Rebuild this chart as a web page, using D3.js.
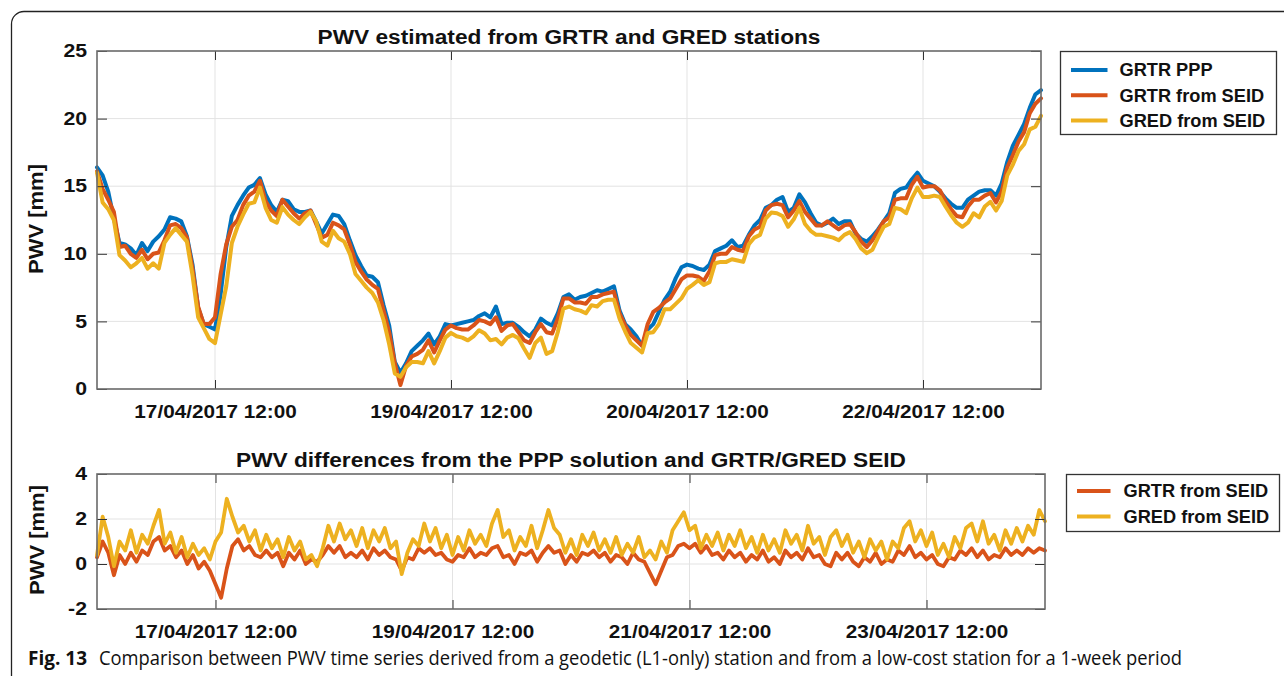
<!DOCTYPE html>
<html>
<head>
<meta charset="utf-8">
<script src="https://cdn.jsdelivr.net/npm/d3@7"></script>
<style>
  body { margin: 0; background: #fff; }
  svg text { fill: #111; }
</style>
</head>
<body>
<div id="chart"></div>
<script>
// hourly samples over one week (hour 0 .. 168)
const topTickHours = [21, 63, 105, 147];
const topTickLabels = ["17/04/2017 12:00", "19/04/2017 12:00", "20/04/2017 12:00", "22/04/2017 12:00"];
const bottomTickLabels = ["17/04/2017 12:00", "19/04/2017 12:00", "21/04/2017 12:00", "23/04/2017 12:00"];
const topYTicks = [0, 5, 10, 15, 20, 25];
const bottomYTicks = [-2, 0, 2, 4];

const grtrPPP = [
  16.4, 15.8, 14.6, 12.6, 10.8, 10.7, 10.4, 9.9, 10.8, 10.2,
  10.9, 11.3, 11.8, 12.7, 12.6, 12.4, 11.3, 9.2, 6.0, 4.8,
  4.6, 4.4, 7.0, 10.5, 12.8, 13.6, 14.3, 14.9, 15.1, 15.6,
  14.4, 13.6, 13.1, 14.0, 13.9, 13.3, 13.1, 13.1, 13.2, 12.4,
  11.5, 12.2, 12.9, 12.8, 12.2, 11.0, 9.9, 9.1, 8.4, 8.3,
  7.9, 6.2, 4.7, 2.0, 1.2, 1.9, 2.8, 3.2, 3.6, 4.1,
  3.3, 3.9, 4.8, 4.7, 4.8, 4.9, 5.0, 5.1, 5.4, 5.6,
  5.3, 6.1, 4.8, 4.9, 4.9, 4.6, 4.2, 3.9, 4.4, 5.2,
  4.9, 4.7, 5.6, 6.8, 7.0, 6.6, 6.8, 6.9, 7.1, 7.3,
  7.2, 7.4, 7.6, 5.8, 4.8, 4.4, 3.9, 3.2, 4.4, 4.8,
  5.7, 6.6, 7.2, 8.2, 9.0, 9.2, 9.1, 8.9, 8.8, 9.2,
  10.2, 10.4, 10.6, 11.0, 10.5, 10.6, 11.4, 12.1, 12.5, 13.4,
  13.6, 14.0, 14.2, 13.1, 13.4, 14.4, 13.8, 13.0, 12.3, 12.1,
  12.3, 12.6, 12.2, 12.4, 12.4, 11.5, 11.1, 10.9, 11.3, 11.8,
  12.4, 13.0, 14.5, 14.8, 14.9, 15.5, 16.0, 15.4, 15.2, 15.0,
  14.6, 14.1, 13.7, 13.4, 13.4, 14.0, 14.3, 14.6, 14.7, 14.7,
  14.3, 15.2, 16.8, 18.0, 18.8, 19.6, 20.8, 21.8, 22.1
];
const grtrSEID = [
  16.1, 14.8, 14.0, 13.1, 10.5, 10.6, 10.0, 9.7, 10.3, 9.6,
  10.0, 10.1, 11.0, 12.1, 12.2, 11.9, 11.2, 8.9, 6.1, 4.8,
  4.8, 5.3, 8.5, 10.7, 12.0, 12.5, 13.6, 14.3, 14.6, 15.4,
  13.9, 13.2, 12.8, 14.0, 13.5, 13.0, 12.6, 13.0, 13.2, 12.2,
  11.2, 11.4, 12.3, 12.1, 11.8, 10.7, 9.4, 8.7, 8.1, 7.7,
  7.4, 5.8, 4.2, 1.9, 0.3, 1.7, 2.4, 2.6, 2.9, 3.6,
  2.7, 3.6, 4.4, 4.7, 4.5, 4.4, 4.4, 4.7, 5.1, 5.0,
  4.8, 5.3, 4.3, 4.7, 4.8, 4.2, 3.6, 3.4, 4.2, 4.8,
  4.2, 4.1, 5.2, 6.7, 6.7, 6.4, 6.4, 6.3, 6.8, 6.8,
  7.0, 7.1, 7.2, 5.6, 4.7, 4.0, 3.6, 3.2, 4.8, 5.7,
  6.0, 6.4, 6.7, 7.4, 8.1, 8.4, 8.4, 8.3, 8.0, 8.7,
  9.9, 10.0, 10.0, 10.5, 10.3, 10.2, 11.3, 11.8, 12.0, 13.2,
  13.6, 13.7, 13.6, 12.7, 13.2, 13.9, 13.1, 12.6, 12.1, 12.1,
  12.4, 12.1, 11.8, 12.1, 12.2, 11.6, 10.9, 10.5, 11.0, 11.7,
  12.4, 12.7, 14.0, 14.1, 14.1, 15.1, 15.7, 14.9, 15.0, 15.0,
  14.7, 13.9, 13.3, 12.8, 12.7, 13.5, 14.0, 14.0, 14.3, 14.5,
  13.8, 14.6, 16.4, 17.3, 18.3, 19.0, 20.4, 21.1, 21.5
];
const gredSEID = [
  16.0, 13.8, 13.3, 12.5, 9.9, 9.5, 9.0, 9.3, 9.7, 8.9,
  9.3, 8.9, 10.8, 11.4, 11.9, 11.4, 10.9, 8.4, 5.3, 4.5,
  3.7, 3.4, 5.5, 7.6, 10.8, 12.0, 12.9, 13.7, 13.8, 14.9,
  13.4, 12.5, 12.3, 13.45, 12.9, 12.5, 12.2, 12.7, 13.1, 12.4,
  10.9, 10.6, 11.7, 11.15, 10.9, 10.0, 8.5, 8.0, 7.5, 7.1,
  6.4, 5.1, 3.3, 1.15, 0.9, 1.6, 2.0, 2.0, 1.9, 2.8,
  1.9, 2.8, 3.8, 4.15, 3.9, 3.8, 3.6, 3.9, 4.35, 4.1,
  3.6, 3.7, 3.3, 3.8, 4.0, 3.75, 3.0, 2.3, 3.4, 3.8,
  2.6, 2.8, 4.2, 5.95, 6.1, 5.9, 5.8, 5.6, 6.2, 6.1,
  6.5, 6.6, 6.6, 5.2, 4.25, 3.4, 3.05, 2.7, 4.15, 4.2,
  4.8, 5.9, 5.9, 6.3, 6.7, 7.4, 7.7, 8.05, 7.7, 7.9,
  9.3, 9.4, 9.4, 9.6, 9.5, 9.4, 10.7, 11.2, 11.4, 12.6,
  13.05, 13.0, 12.8, 12.0, 12.55, 13.4, 12.2, 11.7, 11.4, 11.4,
  11.3, 11.2, 11.0, 11.4, 11.6, 11.1, 10.4, 10.05, 10.3, 11.2,
  12.0, 12.2, 13.4, 13.3, 13.0, 14.1, 14.9, 14.2, 14.2, 14.3,
  14.2, 13.5, 12.85, 12.3, 12.0, 12.3, 13.0, 12.7, 13.5, 13.85,
  13.2, 13.9, 15.8, 16.6, 17.6, 18.1, 19.2, 19.4, 20.2
];
// differences PPP - SEID
const grtrDiff = [
  0.3, 1.0, 0.5, -0.5, 0.4, 0.0, 0.5, 0.1, 0.6, 0.4,
  1.0, 1.2, 0.6, 0.8, 0.3, 0.6, 0.0, 0.4, -0.2, 0.1,
  -0.3, -0.9, -1.5, -0.2, 0.8, 1.1, 0.6, 0.8, 0.4, 0.3,
  0.6, 0.3, 0.5, -0.1, 0.5, 0.2, 0.6, 0.0, 0.2, 0.1,
  0.4, 0.8, 0.5, 0.8, 0.3, 0.5, 0.3, 0.6, 0.2, 0.7,
  0.4, 0.6, 0.3, 0.2, -0.3, 0.3, 0.2, 0.7, 0.5, 0.7,
  0.4, 0.5, 0.2, 0.1, 0.4, 0.3, 0.7, 0.3, 0.5, 0.4,
  0.7, 0.8, 0.3, 0.4, 0.0, 0.5, 0.4, 0.6, 0.1, 0.5,
  0.8, 0.5, 0.6, 0.0, 0.4, 0.1, 0.5, 0.4, 0.6, 0.3,
  0.5, 0.1, 0.4, 0.3, 0.0, 0.5, 0.2, 0.1, -0.4, -0.9,
  -0.3, 0.3, 0.4, 0.8, 0.9, 0.7, 0.9, 0.5, 0.8, 0.4,
  0.5, 0.2, 0.6, 0.3, 0.5, 0.1, 0.4, 0.2, 0.6, 0.1,
  0.3, 0.0, 0.6, 0.3, 0.5, 0.2, 0.7, 0.3, 0.4, 0.0,
  -0.1, 0.5, 0.2, 0.5, 0.1, -0.1, 0.3, 0.1, 0.5, 0.0,
  0.2, 0.1, 0.6, 0.4, 0.8, 0.3, 0.5, 0.2, 0.4, 0.0,
  -0.1, 0.3, 0.2, 0.6, 0.4, 0.7, 0.3, 0.6, 0.2, 0.4,
  0.3, 0.7, 0.4, 0.6, 0.4, 0.7, 0.5, 0.7, 0.6
];
const gredDiff = [
  0.4, 2.1, 1.2, -0.1, 1.0, 0.6, 1.5, 0.5, 1.3, 0.9,
  1.7, 2.4, 0.9, 1.4, 0.5, 1.2, 0.3, 0.9, 0.4, 0.7,
  0.2, 1.0, 1.4, 2.9, 2.1, 1.4, 1.7, 1.0, 1.5, 0.6,
  1.3, 0.7, 1.1, 0.3, 1.2, 0.6, 1.0, 0.2, 0.4, -0.1,
  0.7, 1.7, 1.0, 1.8, 1.1, 1.5, 0.8, 1.6, 0.7, 1.5,
  1.0, 1.6, 0.7, 1.0, -0.45, 0.5, 1.1, 0.8, 1.8, 1.0,
  1.6, 0.7, 1.3, 0.4, 1.2, 0.6, 1.5, 0.9, 1.3, 0.8,
  1.8, 2.4, 1.2, 1.5, 0.6, 1.2, 0.8, 1.7, 0.7, 1.5,
  2.4, 1.6, 1.3, 0.5, 1.1, 0.4, 1.3, 0.8, 1.4, 0.6,
  1.1, 0.5, 1.2, 0.4, 0.9, 0.5, 1.2, 0.3, 0.6, 0.2,
  1.0, 0.5, 1.5, 1.9, 2.3, 1.5, 1.7, 0.7, 1.3, 0.8,
  1.4, 0.6, 1.3, 0.8, 1.5, 0.7, 1.2, 0.5, 1.3, 0.6,
  1.1, 0.5, 1.5, 0.9, 1.3, 0.6, 1.7, 0.9, 1.2, 0.4,
  1.2, 1.5, 0.8, 1.3, 0.5, 1.0, 0.3, 1.1, 0.6, 1.0,
  0.2, 1.0, 0.7, 1.6, 1.9, 1.0, 1.5, 0.8, 1.4, 0.4,
  0.9, 0.3, 1.2, 0.7, 1.6, 1.8, 1.0, 1.9, 0.9, 1.3,
  0.6, 1.5, 0.9, 1.6, 1.0, 1.7, 1.3, 2.4, 1.9
];

const topSeries = [
  { name: "GRTR PPP", values: grtrPPP, color: "#0072BD" },
  { name: "GRTR from SEID", values: grtrSEID, color: "#D95319" },
  { name: "GRED from SEID", values: gredSEID, color: "#EDB120" }
];
const bottomSeries = [
  { name: "GRTR from SEID", values: grtrDiff, color: "#D95319" },
  { name: "GRED from SEID", values: gredDiff, color: "#EDB120" }
];

const W = 1284, H = 676;
const font = "'Liberation Sans', Arial, Helvetica, sans-serif";

const svg = d3.select("#chart").append("svg")
  .attr("width", W).attr("height", H)
  .style("display", "block");

// stretch text horizontally (the figure is a bit wider than its fonts)
function stretch(sel, k) {
  sel.each(function () {
    const w = this.getComputedTextLength();
    d3.select(this).attr("textLength", w * k).attr("lengthAdjust", "spacingAndGlyphs");
  });
}

// page frame with the rounded top-left corner
svg.append("path")
  .attr("d", "M11.5,676 V24 A12.5,12.5 0 0 1 24,11.5 H1284")
  .attr("fill", "none").attr("stroke", "#222").attr("stroke-width", 1.3);

function drawPanel(opt) {
  const x = d3.scaleLinear().domain([0, 168]).range([opt.x0, opt.x1]);
  const y = d3.scaleLinear().domain(opt.yDomain).range([opt.y1, opt.y0]);
  const g = svg.append("g");

  g.append("rect")
    .attr("x", opt.x0).attr("y", opt.y0)
    .attr("width", opt.x1 - opt.x0).attr("height", opt.y1 - opt.y0)
    .attr("fill", "#fff");

  // grid
  g.selectAll(".gx").data(topTickHours).join("line")
    .attr("x1", d => x(d)).attr("x2", d => x(d))
    .attr("y1", opt.y0).attr("y2", opt.y1)
    .attr("stroke", "#e3e3e3").attr("stroke-width", 1);
  g.selectAll(".gy").data(opt.yTicks.filter(d => d > opt.yDomain[0] && d < opt.yDomain[1])).join("line")
    .attr("x1", opt.x0).attr("x2", opt.x1)
    .attr("y1", d => y(d)).attr("y2", d => y(d))
    .attr("stroke", "#e3e3e3").attr("stroke-width", 1);

  // lines
  const line = d3.line().x((d, i) => x(i)).y(d => y(d));
  g.selectAll(".series").data(opt.series).join("path")
    .attr("d", d => line(d.values))
    .attr("fill", "none")
    .attr("stroke", d => d.color)
    .attr("stroke-width", opt.lw)
    .attr("stroke-linejoin", "round")
    .attr("stroke-linecap", "round");

  // axes (inner ticks on all four sides, MATLAB box style)
  const ax = d3.axisBottom(x).tickValues(topTickHours)
    .tickFormat((d, i) => opt.xLabels[i]).tickSizeInner(-9).tickSizeOuter(0).tickPadding(16);
  const xa = g.append("g").attr("transform", `translate(0,${opt.y1})`).call(ax);
  const axTop = d3.axisTop(x).tickValues(topTickHours).tickFormat("").tickSizeInner(-9).tickSizeOuter(0);
  const xt = g.append("g").attr("transform", `translate(0,${opt.y0})`).call(axTop);
  const ay = d3.axisLeft(y).tickValues(opt.yTicks).tickFormat(d => String(d))
    .tickSizeInner(-10).tickSizeOuter(0).tickPadding(10);
  const ya = g.append("g").attr("transform", `translate(${opt.x0},0)`).call(ay);
  const ayR = d3.axisRight(y).tickValues(opt.yTicks).tickFormat("").tickSizeInner(-10).tickSizeOuter(0);
  const yr = g.append("g").attr("transform", `translate(${opt.x1},0)`).call(ayR);

  [xa, xt, ya, yr].forEach(a => {
    a.select(".domain").remove();
    a.selectAll("line").attr("stroke", "#333").attr("stroke-width", 1);
  });
  xa.selectAll("text").attr("font-family", font).attr("font-weight", "bold")
    .attr("font-size", 18).attr("fill", "#111");
  ya.selectAll("text").attr("font-family", font).attr("font-weight", "bold")
    .attr("font-size", 18).attr("fill", "#111");
  stretch(xa.selectAll("text"), 1.15);
  stretch(ya.selectAll("text"), 1.18);

  g.append("rect")
    .attr("x", opt.x0).attr("y", opt.y0)
    .attr("width", opt.x1 - opt.x0).attr("height", opt.y1 - opt.y0)
    .attr("fill", "none").attr("stroke", "#6a6a6a").attr("stroke-width", 1.6);

  // title
  g.append("text")
    .attr("x", (opt.x0 + opt.x1) / 2).attr("y", opt.titleY)
    .attr("text-anchor", "middle")
    .attr("font-family", font).attr("font-weight", "bold").attr("font-size", 19.5)
    .attr("textLength", opt.titleLen).attr("lengthAdjust", "spacingAndGlyphs")
    .text(opt.title);

  // y label
  g.append("text")
    .attr("transform", `translate(${opt.ylabX},${opt.ylabY}) rotate(-90)`)
    .attr("text-anchor", "middle")
    .attr("font-family", font).attr("font-weight", "bold").attr("font-size", 20)
    .attr("textLength", 110).attr("lengthAdjust", "spacingAndGlyphs")
    .text("PWV [mm]");

  // legend
  const lg = g.append("g");
  lg.append("rect")
    .attr("x", opt.leg.x).attr("y", opt.leg.y)
    .attr("width", opt.leg.w).attr("height", opt.leg.h)
    .attr("fill", "#fff").attr("stroke", "#333").attr("stroke-width", 1.3);
  const rows = lg.selectAll(".row").data(opt.series).join("g")
    .attr("transform", (d, i) => `translate(${opt.leg.x},${opt.leg.y + opt.leg.first + i * opt.leg.step})`);
  rows.append("line")
    .attr("x1", opt.leg.lx0).attr("x2", opt.leg.lx1).attr("y1", 0).attr("y2", 0)
    .attr("stroke", d => d.color).attr("stroke-width", 4);
  const lt = rows.append("text")
    .attr("x", opt.leg.tx).attr("y", 0).attr("dy", "0.36em")
    .attr("font-family", font).attr("font-weight", "bold").attr("font-size", 17.5)
    .text(d => d.name);
  stretch(lt, 1.04);
}

drawPanel({
  x0: 97, x1: 1041, y0: 51, y1: 389,
  yDomain: [0, 25], yTicks: topYTicks,
  xLabels: topTickLabels, series: topSeries, lw: 4,
  title: "PWV estimated from GRTR and GRED stations", titleY: 44, titleLen: 503,
  ylabX: 43, ylabY: 219,
  leg: { x: 1060.5, y: 51.5, w: 216, h: 83, first: 18.5, step: 25.3, lx0: 10.5, lx1: 47, tx: 59 }
});

drawPanel({
  x0: 97, x1: 1045, y0: 474, y1: 609,
  yDomain: [-2, 4], yTicks: bottomYTicks,
  xLabels: bottomTickLabels, series: bottomSeries, lw: 3.8,
  title: "PWV differences from the PPP solution and GRTR/GRED SEID", titleY: 467, titleLen: 670,
  ylabX: 44, ylabY: 540,
  leg: { x: 1066.5, y: 474.5, w: 213, h: 57, first: 16.5, step: 25.5, lx0: 10.5, lx1: 44, tx: 57 }
});

// caption
const capFont = "'Open Sans', 'Noto Sans', sans-serif";
svg.append("text")
  .attr("x", 28).attr("y", 665)
  .attr("font-family", capFont).attr("font-weight", "bold").attr("font-size", 20)
  .attr("textLength", 59).attr("lengthAdjust", "spacingAndGlyphs")
  .text("Fig. 13");
svg.append("text")
  .attr("x", 99).attr("y", 665)
  .attr("font-family", capFont).attr("font-size", 20)
  .attr("textLength", 1083).attr("lengthAdjust", "spacingAndGlyphs")
  .text("Comparison between PWV time series derived from a geodetic (L1-only) station and from a low-cost station for a 1-week period");
</script>
</body>
</html>
